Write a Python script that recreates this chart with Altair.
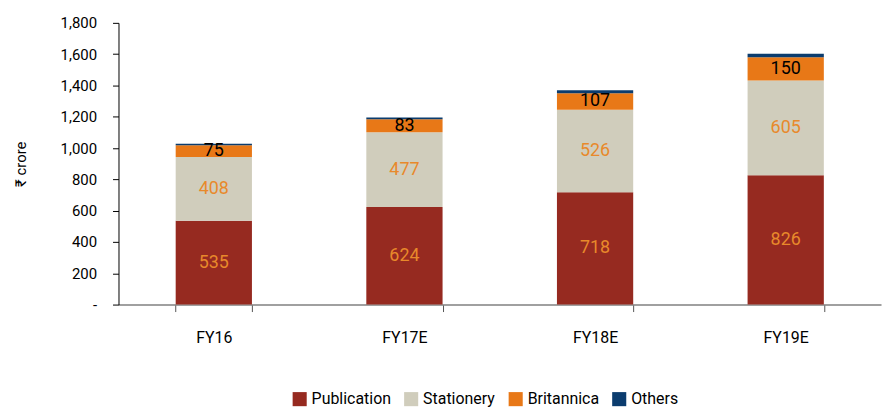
import altair as alt
import pandas as pd

years = ["FY16", "FY17E", "FY18E", "FY19E"]
segments = ["Publication", "Stationery", "Britannica", "Others"]
publication = [535, 624, 718, 826]
stationery = [408, 477, 526, 605]
britannica = [75, 83, 107, 150]
others = [10, 12, 18, 22]
colors = ["#962A20", "#D0CDBC", "#E87817", "#0B3C6E"]
label_colors = {"Publication": "#E8892B", "Stationery": "#E8892B", "Britannica": "#000000"}

rows = []
for i, y in enumerate(years):
    for j, (seg, vals) in enumerate(zip(segments, [publication, stationery, britannica, others])):
        rows.append({"year": y, "segment": seg, "value": vals[i], "order": j,
                     "label": str(vals[i]) if seg != "Others" else "",
                     "lcolor": label_colors.get(seg, "#000000")})
df = pd.DataFrame(rows)

FONT = "Roboto"

base = alt.Chart(df).transform_stack(
    stack="value", groupby=["year"], sort=[alt.SortField("order", order="ascending")],
    as_=["y0", "y1"]
).transform_calculate(mid="(datum.y0 + datum.y1) / 2")

x = alt.X("year:N", sort=years, title=None,
          scale=alt.Scale(paddingInner=0.6, paddingOuter=0.3),
          axis=alt.Axis(tickBand="extent", labelAngle=0, labelFontSize=16, labelFont=FONT,
                        labelColor="#000000", labelPadding=18, tickSize=7,
                        domainColor="#808080", tickColor="#555555", domainWidth=1.5))

yaxis = alt.Axis(values=list(range(0, 1801, 200)), grid=False, labelOverlap=False,
                 labelExpr="datum.value == 0 ? '-' : format(datum.value, ',')",
                 labelFontSize=15, labelFont=FONT, labelColor="#000000",
                 labelPadding=16, tickSize=6, tickColor="#000000",
                 domainColor="#000000", titleFont=FONT, titleFontSize=15,
                 titleFontWeight="normal", titleColor="#000000", titlePadding=32)
yscale = alt.Scale(domain=[0, 1800])

bars = base.mark_bar().encode(
    x=x,
    y=alt.Y("y0:Q", scale=yscale, title="₹ crore", axis=yaxis),
    y2="y1:Q",
    color=alt.Color("segment:N", sort=segments,
                    scale=alt.Scale(domain=segments, range=colors),
                    legend=alt.Legend(title=None, orient="none", direction="horizontal",
                                      legendX=174, legendY=370,
                                      symbolType="square", symbolSize=200, symbolStrokeWidth=0,
                                      labelFont=FONT, labelFontSize=16, labelColor="#000000",
                                      columnPadding=12)),
)

text = base.transform_filter("datum.segment != 'Others'").mark_text(
    font=FONT, fontSize=18, baseline="middle"
).encode(
    x=x,
    y=alt.Y("mid:Q", scale=yscale, title="₹ crore", axis=yaxis),
    text="label:N",
    color=alt.Color("lcolor:N", scale=None),
)

chart = alt.layer(bars, text).properties(
    width=766, height=283,
    padding={"top": 7, "left": 5, "right": 5, "bottom": 5}
).configure_view(stroke=None)
chart.save("out.html", embed_options={"renderer": "svg", "actions": False})
